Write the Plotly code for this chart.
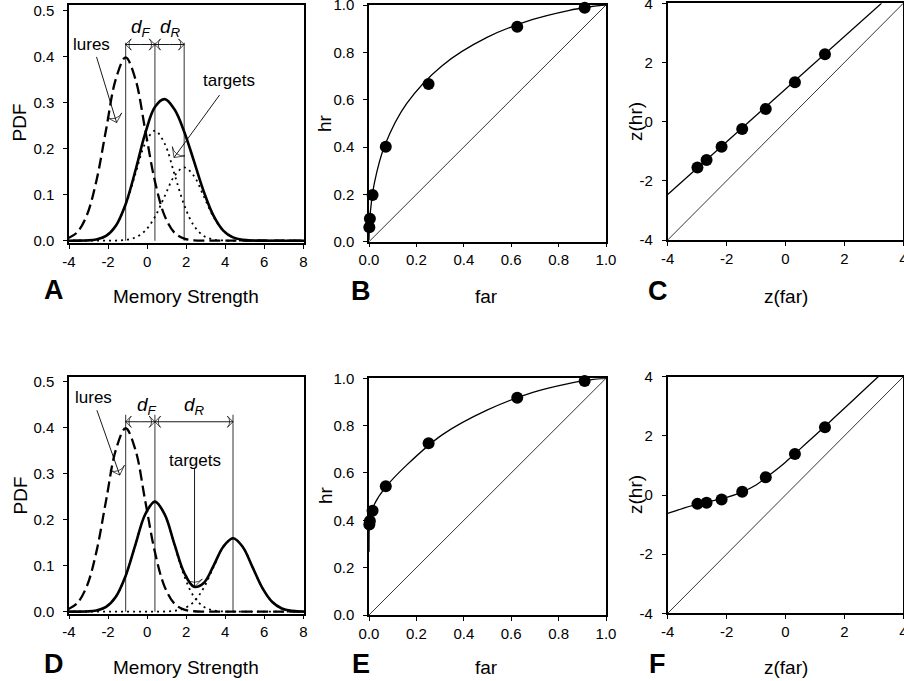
import plotly.graph_objects as go

W, H = 904, 681
FONT = "Liberation Sans, Arial, sans-serif"

# ---------------- data ----------------
# memory-strength grid (panels A, D)
strength = [-4.1, -3.6, -3.1, -2.6, -2.1, -1.6, -1.1, -0.6, -0.1, 0.4, 0.9, 1.4, 1.9,
            2.4, 2.9, 3.4, 3.9, 4.4, 4.9, 5.4, 5.9, 6.4, 6.9, 7.4, 7.9, 8.4]
lures_pdf = [0.0044, 0.0175, 0.0540, 0.1295, 0.2420, 0.3521, 0.3989, 0.3521, 0.2420, 0.1295,
             0.0540, 0.0175, 0.0044, 0.0009, 0.0001, 0, 0, 0, 0, 0, 0, 0, 0, 0, 0, 0]
fam_pdf = [0.0, 0.0001, 0.0005, 0.0027, 0.0105, 0.0324, 0.0777, 0.1452, 0.2113, 0.2393,
           0.2113, 0.1452, 0.0777, 0.0324, 0.0105, 0.0027, 0.0005, 0.0001, 0, 0, 0, 0, 0, 0, 0, 0]
A_rec_pdf = [0, 0, 0, 0, 0.0001, 0.0003, 0.0018, 0.0070, 0.0216, 0.0518, 0.0968, 0.1408,
             0.1596, 0.1408, 0.0968, 0.0518, 0.0216, 0.0070, 0.0018, 0.0003, 0.0001, 0, 0, 0, 0, 0]
A_target_pdf = [0.0, 0.0001, 0.0005, 0.0027, 0.0106, 0.0327, 0.0795, 0.1522, 0.2329, 0.2911,
                0.3081, 0.2860, 0.2373, 0.1732, 0.1073, 0.0545, 0.0221, 0.0071, 0.0018, 0.0003,
                0.0001, 0, 0, 0, 0, 0]
D_rec_pdf = [0, 0, 0, 0, 0, 0, 0, 0, 0, 0.0001, 0.0003, 0.0018, 0.0070, 0.0216, 0.0518,
             0.0968, 0.1408, 0.1596, 0.1408, 0.0968, 0.0518, 0.0216, 0.0070, 0.0018, 0.0003, 0.0001]
D_target_pdf = [0.0, 0.0001, 0.0005, 0.0027, 0.0105, 0.0324, 0.0777, 0.1452, 0.2113, 0.2394,
                0.2116, 0.1470, 0.0847, 0.0540, 0.0623, 0.0995, 0.1413, 0.1597, 0.1408, 0.0968,
                0.0518, 0.0216, 0.0070, 0.0018, 0.0003, 0.0001]
A_means = [-1.1, 0.4, 1.9]      # lure mean, familiarity, recollection
D_means = [-1.1, 0.4, 4.4]

# ROC data (B, C : top row ; E, F : bottom row)
far_obs = [0.0014, 0.0037, 0.0150, 0.0708, 0.2514, 0.6255, 0.9099]
B_hr_obs = [0.0606, 0.0968, 0.1977, 0.4013, 0.6664, 0.9082, 0.9887]
E_hr_obs = [0.382, 0.397, 0.440, 0.544, 0.726, 0.918, 0.989]
zfar_obs = [-2.99, -2.68, -2.17, -1.47, -0.67, 0.32, 1.34]
C_zhr_obs = [-1.55, -1.30, -0.85, -0.25, 0.43, 1.33, 2.28]
F_zhr_obs = [-0.30, -0.26, -0.15, 0.11, 0.60, 1.39, 2.29]

far_curve = [0.00003, 0.00023, 0.00135, 0.0062, 0.0228, 0.0668, 0.1587, 0.3085, 0.5, 0.6915,
             0.8413, 0.9332, 0.9772, 0.9938, 0.99865, 1.0]
B_hr_curve = [0.0069, 0.0220, 0.0582, 0.1303, 0.2483, 0.4071, 0.5832, 0.7438, 0.8643, 0.9388,
              0.9767, 0.9926, 0.9980, 0.99956, 0.99992, 1.0]
E_hr_curve = [0.2676, 0.3228, 0.3783, 0.4207, 0.4681, 0.5359, 0.6331, 0.7611, 0.8665, 0.9406,
              0.9778, 0.9932, 0.9983, 0.9997, 0.99994, 1.0]
C_line_x = [-4.0, 3.26]
C_line_y = [-2.46, 4.0]
F_curve_x = [-4, -3.5, -3, -2.5, -2, -1.5, -1, -0.5, 0, 0.5, 1, 1.5, 2, 2.5, 3, 3.2]
F_curve_y = [-0.62, -0.46, -0.31, -0.20, -0.08, 0.09, 0.34, 0.71, 1.11, 1.56, 2.01, 2.47,
             2.93, 3.40, 3.86, 4.05]
chance_p = [0, 1]
chance_z = [-4, 4]

pdf_ticks = [0, 0.1, 0.2, 0.3, 0.4, 0.5]
pdf_ticktext = ["0.0", "0.1", "0.2", "0.3", "0.4", "0.5"]
ms_ticks = [-4, -2, 0, 2, 4, 6, 8]
ms_ticktext = ["-4", "-2", "0", "2", "4", "6", "8"]
p_ticks = [0, 0.2, 0.4, 0.6, 0.8, 1.0]
p_ticktext = ["0.0", "0.2", "0.4", "0.6", "0.8", "1.0"]
z_ticks = [-4, -2, 0, 2, 4]
z_ticktext = ["-4", "-2", "0", "2", "4"]

# pointer arrows (tail -> head) in data units
A_lures_arrow = ([-2.59, -1.56], [0.40, 0.257])
A_targets_arrow = ([3.71, 1.38], [0.317, 0.181])
D_lures_arrow = ([-2.57, -1.40], [0.438, 0.297])
D_targets_arrow = ([2.43, 2.43], [0.31, 0.054])

# ---------------- layout helpers ----------------
def xd(a, b):
    return [a / W, b / W]

def yd(top, bottom):
    return [1 - bottom / H, 1 - top / H]

panels = {
    "A": (xd(69, 304), yd(5, 243), [-4, 8.036], [-0.005, 0.513], ms_ticks, ms_ticktext, pdf_ticks, pdf_ticktext),
    "B": (xd(369, 606), yd(5, 241.7), [0, 1], [0, 1], p_ticks, p_ticktext, p_ticks, p_ticktext),
    "C": (xd(667.7, 903.3), yd(3.3, 240), [-4, 4], [-4, 4], z_ticks, z_ticktext, z_ticks, z_ticktext),
    "D": (xd(69, 304), yd(376.7, 613.5), [-4, 8.036], [-0.004, 0.511], ms_ticks, ms_ticktext, pdf_ticks, pdf_ticktext),
    "E": (xd(369, 606), yd(378.3, 615), [0, 1], [0, 1], p_ticks, p_ticktext, p_ticks, p_ticktext),
    "F": (xd(667.7, 903.3), yd(376.7, 613.3), [-4, 4], [-4, 4], z_ticks, z_ticktext, z_ticks, z_ticktext),
}
order = ["A", "B", "C", "D", "E", "F"]
ax_ids = {name: ("x" if i == 0 else f"x{i+1}", "y" if i == 0 else f"y{i+1}") for i, name in enumerate(order)}

fig = go.Figure()
layout = dict(width=W, height=H, autosize=False, margin=dict(l=0, r=0, t=0, b=0, pad=0), showlegend=False,
              paper_bgcolor="white", plot_bgcolor="white",
              font=dict(family=FONT, color="black"))

axis_common = dict(showline=True, linecolor="black", linewidth=1.5, mirror=True,
                   ticks="outside", ticklen=4, tickwidth=1, tickcolor="black",
                   showgrid=False, zeroline=False, tickfont=dict(size=15, family=FONT, color="black"),
                   fixedrange=True, automargin=False, ticklabeloverflow="allow")

for i, name in enumerate(order):
    xdom, ydom, xr, yr, xt, xtt, yt, ytt = panels[name]
    xa, ya = ax_ids[name]
    xkey = "xaxis" if i == 0 else f"xaxis{i+1}"
    ykey = "yaxis" if i == 0 else f"yaxis{i+1}"
    layout[xkey] = dict(axis_common, domain=xdom, range=xr, anchor=ya, tickvals=xt, ticktext=xtt,
                        ticklabelstandoff=0)
    layout[ykey] = dict(axis_common, domain=ydom, range=yr, anchor=xa, tickvals=yt, ticktext=ytt,
                        ticklabelstandoff=6)

def add(name, **kw):
    xa, ya = ax_ids[name]
    fig.add_trace(go.Scatter(xaxis=xa, yaxis=ya, hoverinfo="skip", **kw))

def arrow(name, xs, ys, size, width=0.9):
    add(name, x=xs, y=ys, mode="lines+markers", line=dict(color="black", width=width),
        marker=dict(symbol="arrow-wide-open", size=[0, size], angleref="previous",
                    color="black", line=dict(color="black", width=1)))

shapes = []
annotations = []

# ---------- PDF panels ----------
for name, rec, tgt, means, mark_top, arrow_y in [
        ("A", A_rec_pdf, A_target_pdf, A_means, 0.431, 0.427),
        ("D", D_rec_pdf, D_target_pdf, D_means, 0.428, 0.413)]:
    xa, ya = ax_ids[name]
    for m in means:
        shapes.append(dict(type="line", xref=xa, yref=ya, x0=m, x1=m, y0=0, y1=mark_top,
                           line=dict(color="#555555", width=1.2), layer="below"))
    add(name, x=strength, y=fam_pdf, mode="lines", line=dict(color="black", width=1.8, dash="2px,4px", shape="spline"))
    add(name, x=strength, y=rec, mode="lines", line=dict(color="black", width=1.8, dash="2px,4px", shape="spline"))
    add(name, x=strength, y=lures_pdf, mode="lines", line=dict(color="black", width=2.3, dash="11px,5px", shape="spline"))
    add(name, x=strength, y=tgt, mode="lines", line=dict(color="black", width=2.6, shape="spline"))
    for a0, a1 in [(means[0], means[1]), (means[1], means[2])]:
        mid = (a0 + a1) / 2
        arrow(name, [mid, a1], [arrow_y, arrow_y], 8)
        arrow(name, [mid, a0], [arrow_y, arrow_y], 8)

arrow("A", *A_lures_arrow, 11)
arrow("A", *A_targets_arrow, 11)
arrow("D", *D_lures_arrow, 11)
arrow("D", *D_targets_arrow, 11)

annotations += [
    dict(xref="x", yref="y", x=-2.84, y=0.428, text="lures", showarrow=False, font=dict(size=17)),
    dict(xref="x", yref="y", x=4.22, y=0.348, text="targets", showarrow=False, font=dict(size=17)),
    dict(xref="x", yref="y", x=-0.29, y=0.462, text="<i>d<sub>F</sub></i>", showarrow=False, font=dict(size=19)),
    dict(xref="x", yref="y", x=1.19, y=0.462, text="<i>d<sub>R</sub></i>", showarrow=False, font=dict(size=19)),
    dict(xref="x4", yref="y4", x=-2.77, y=0.465, text="lures", showarrow=False, font=dict(size=17)),
    dict(xref="x4", yref="y4", x=2.43, y=0.328, text="targets", showarrow=False, font=dict(size=17)),
    dict(xref="x4", yref="y4", x=-0.03, y=0.447, text="<i>d<sub>F</sub></i>", showarrow=False, font=dict(size=19)),
    dict(xref="x4", yref="y4", x=2.43, y=0.447, text="<i>d<sub>R</sub></i>", showarrow=False, font=dict(size=19)),
]

# ---------- ROC panels ----------
for name, hr_curve, hr_obs in [("B", B_hr_curve, B_hr_obs), ("E", E_hr_curve, E_hr_obs)]:
    add(name, x=chance_p, y=chance_p, mode="lines", line=dict(color="black", width=0.8))
    add(name, x=far_curve, y=hr_curve, mode="lines", line=dict(color="black", width=1.3, shape="spline"))
    add(name, x=far_obs, y=hr_obs, mode="markers", marker=dict(color="black", size=12), cliponaxis=False)

add("C", x=chance_z, y=chance_z, mode="lines", line=dict(color="black", width=0.8))
add("C", x=C_line_x, y=C_line_y, mode="lines", line=dict(color="black", width=1.3))
add("C", x=zfar_obs, y=C_zhr_obs, mode="markers", marker=dict(color="black", size=12), cliponaxis=False)
add("F", x=chance_z, y=chance_z, mode="lines", line=dict(color="black", width=0.8))
add("F", x=F_curve_x, y=F_curve_y, mode="lines", line=dict(color="black", width=1.3, shape="spline"))
add("F", x=zfar_obs, y=F_zhr_obs, mode="markers", marker=dict(color="black", size=12), cliponaxis=False)

# ---------- titles & panel letters (paper coords from pixels) ----------
def ptxt(px, py, text, size, bold=False, angle=0):
    return dict(xref="paper", yref="paper", x=px / W, y=1 - py / H, xanchor="center", yanchor="middle",
                text=f"<b>{text}</b>" if bold else text, showarrow=False, textangle=angle,
                font=dict(size=size, family=FONT, color="black"))

annotations += [
    ptxt(19.5, 123, "PDF", 19, angle=-90), ptxt(186, 296, "Memory Strength", 19), ptxt(54, 290, "A", 27, bold=True),
    ptxt(325, 123, "hr", 19, angle=-90), ptxt(486.5, 296, "far", 19), ptxt(361, 291, "B", 27, bold=True),
    ptxt(635, 122, "z(hr)", 19, angle=-90), ptxt(786, 296, "z(far)", 19), ptxt(657.5, 291, "C", 27, bold=True),
    ptxt(19.5, 496, "PDF", 19, angle=-90), ptxt(186, 667, "Memory Strength", 19), ptxt(54, 664, "D", 27, bold=True),
    ptxt(325, 495, "hr", 19, angle=-90), ptxt(486.5, 667, "far", 19), ptxt(361, 664, "E", 27, bold=True),
    ptxt(635, 495, "z(hr)", 19, angle=-90), ptxt(786, 667, "z(far)", 19), ptxt(657.5, 664, "F", 27, bold=True),
]

layout["shapes"] = shapes
layout["annotations"] = annotations
fig.update_layout(**layout)

css_fix = ("var s=document.createElement('style');"
           "s.innerHTML='html,body{margin:0 !important;padding:0 !important;overflow:hidden !important;}';"
           "document.head.appendChild(s);")
fig.write_html("out.html", post_script=css_fix,
               config={"responsive": False, "displayModeBar": False})
